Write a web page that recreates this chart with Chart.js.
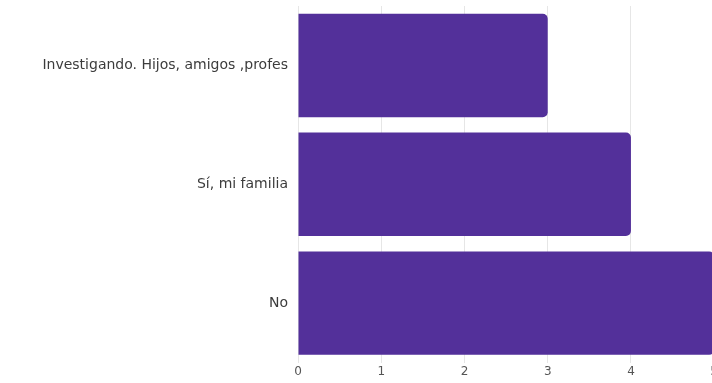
<!DOCTYPE html>
<html>
<head>
<meta charset="utf-8">
<script src="https://cdn.jsdelivr.net/npm/chart.js@4"></script>
<style>
  html, body { margin: 0; padding: 0; background: #fff; overflow: hidden; }
  #wrap { width: 720px; height: 383px; }
</style>
</head>
<body>
<div id="wrap"><canvas id="barRespuestas"></canvas></div>
<script>
const categorias = ['Investigando. Hijos, amigos ,profes', 'Sí, mi familia', 'No'];
const respuestas = [3, 4, 5];

const fuente = '"DejaVu Sans", Verdana, sans-serif';

new Chart(document.getElementById('barRespuestas'), {
    type: 'bar',
    data: {
        labels: categorias,
        datasets: [{
            data: respuestas,
            backgroundColor: '#53309a',
            borderWidth: 0,
            borderRadius: { topRight: 5, bottomRight: 5 },
            borderSkipped: 'start',
            categoryPercentage: 0.87,
            barPercentage: 1.0
        }]
    },
    options: {
        indexAxis: 'y',
        responsive: true,
        maintainAspectRatio: false,
        animation: false,
        layout: { padding: { top: 6, right: 0, bottom: 2 } },
        plugins: {
            legend: { display: false },
            tooltip: { enabled: false }
        },
        scales: {
            x: {
                min: 0,
                max: 5,
                ticks: {
                    stepSize: 1,
                    color: '#555',
                    font: { family: fuente, size: 12 },
                    padding: 2
                },
                grid: { color: '#e6e6e6', drawTicks: false },
                border: { display: false }
            },
            y: {
                afterFit(scale) {
                    scale.width = 298;
                    scale.paddingTop = 0;
                    scale.paddingBottom = 0;
                },
                ticks: {
                    color: '#3c3c3c',
                    font: { family: fuente, size: 14 },
                    padding: 10
                },
                grid: { display: false, drawTicks: false },
                border: { display: false }
            }
        }
    }
});
</script>
</body>
</html>
